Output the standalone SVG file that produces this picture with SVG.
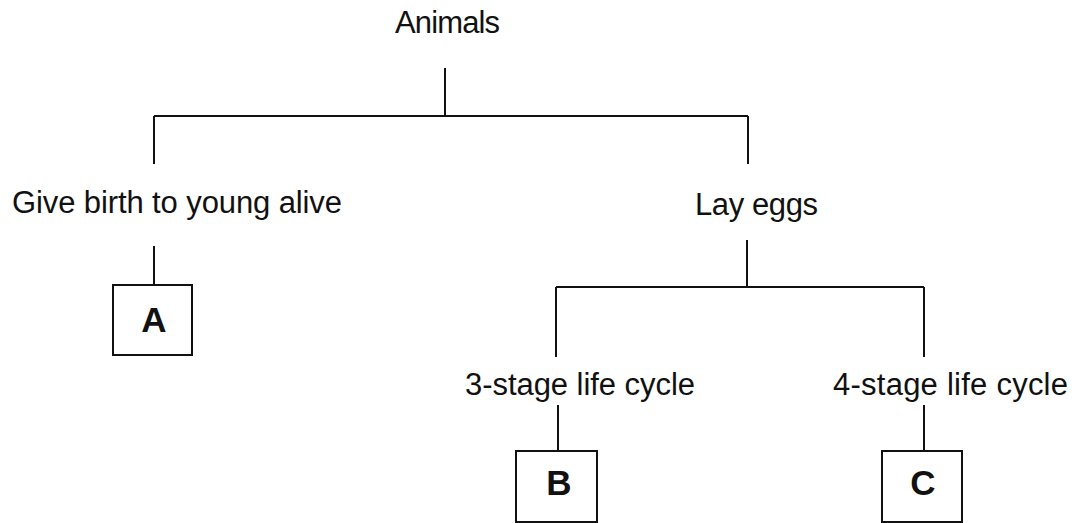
<svg xmlns="http://www.w3.org/2000/svg" width="1084" height="523" viewBox="0 0 1084 523">
<style>
.lbl{font-family:"Liberation Sans",Arial,sans-serif;font-size:31px;fill:#111}
.let{font-family:"Liberation Sans",Arial,sans-serif;font-size:35px;font-weight:bold;fill:#111;text-anchor:middle}
.box{fill:#fff;stroke:#111;stroke-width:2}
.ln{fill:none;stroke:#111;stroke-width:2}
</style>
<rect width="1084" height="523" fill="#fff"/>
<g id="connectors">
<path class="ln" d="M445 68V116M154 116H748M154 116V164M748 116V164"/>
<path class="ln" d="M154 246V285"/>
<path class="ln" d="M747 240V287M556 287H924M556 287V357M924 287V357"/>
<path class="ln" d="M558 405V451M924 405V451"/>
</g>
<g id="animals"><text class="lbl" x="395" y="33" textLength="105">Animals</text></g>
<g id="live"><text class="lbl" x="12" y="213" textLength="330">Give birth to young alive</text></g>
<g id="eggs"><text class="lbl" x="695" y="215" textLength="123">Lay eggs</text></g>
<g id="three"><text class="lbl" x="465" y="395" textLength="230">3-stage life cycle</text></g>
<g id="four"><text class="lbl" x="833" y="395" textLength="235">4-stage life cycle</text></g>
<g id="A"><rect class="box" x="113" y="285" width="79" height="70"/><text class="let" x="154" y="332">A</text></g>
<g id="B"><rect class="box" x="516" y="451" width="81" height="71"/><text class="let" x="559" y="495">B</text></g>
<g id="C"><rect class="box" x="882" y="451" width="80" height="71"/><text class="let" x="923" y="495">C</text></g>
</svg>
